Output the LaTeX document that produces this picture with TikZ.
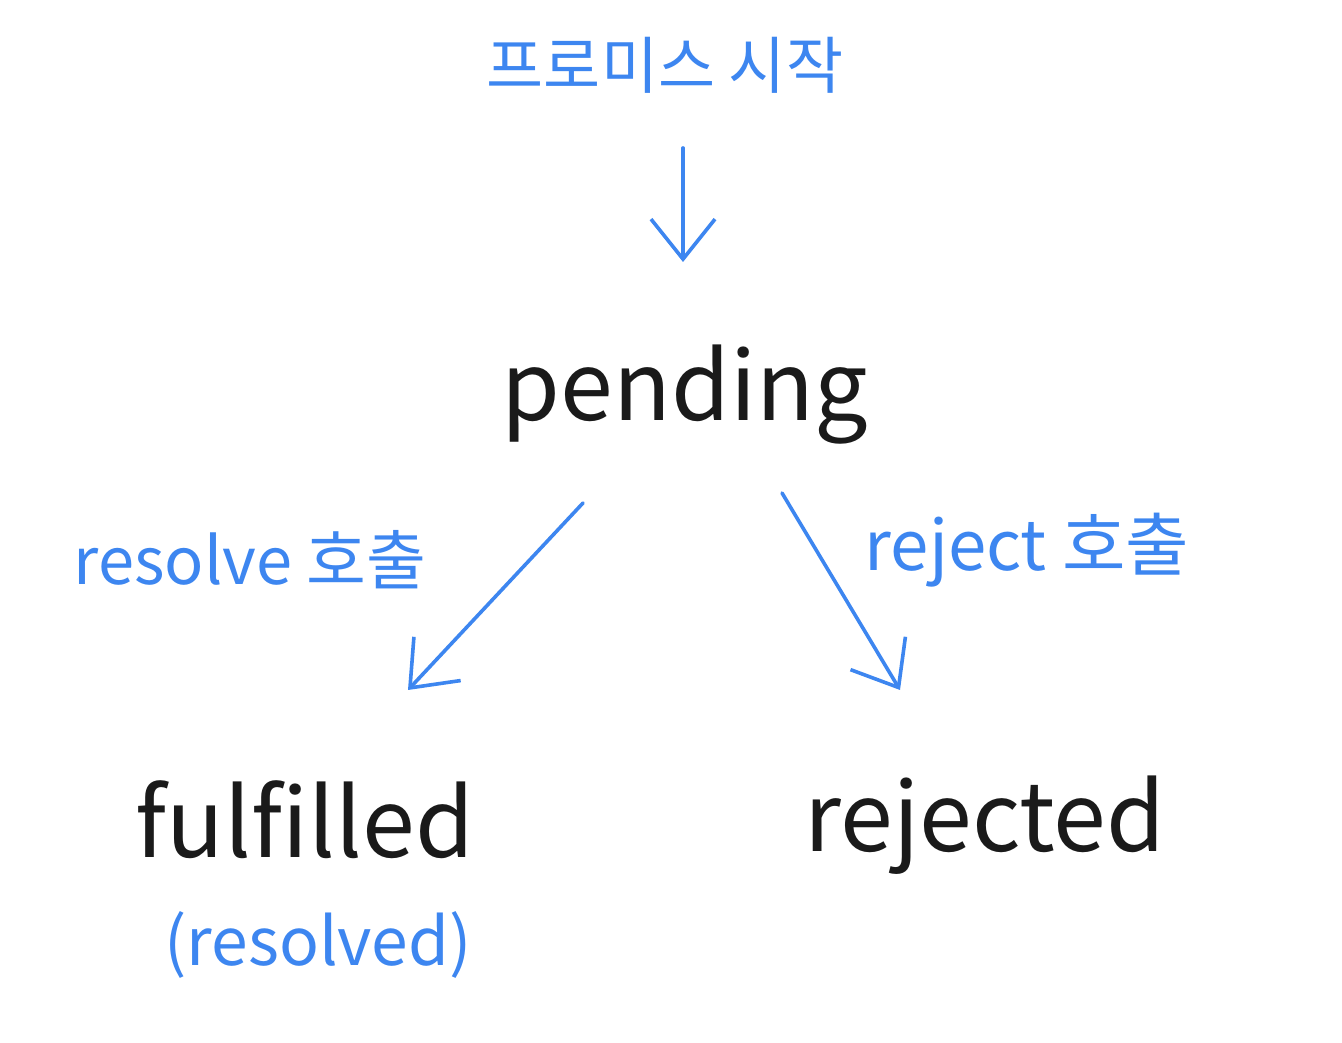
\documentclass[tikz,border=0pt]{standalone}
\usepackage{fontspec}
\setmainfont{Noto Sans CJK KR}
\usetikzlibrary{arrows.meta}
\definecolor{pblue}{HTML}{3D86F0}
\definecolor{pink}{HTML}{1A1A1A}
\tikzset{
  x=1pt,y=1pt,
  state/.style={text=pink,font=\fontsize{95}{100}\selectfont,inner sep=0pt},
  note/.style={text=pblue,font=\fontsize{62}{68}\selectfont,inner sep=0pt},
  flow/.style={draw=pblue,line width=3.6pt,line cap=round,line join=round,
    -{Straight Barb[length=40pt,width=64pt,line width=3.6pt]}}
}
\begin{document}
\begin{tikzpicture}
\useasboundingbox[fill=white] (0,0) rectangle (1342,1042);
% labels (y = 1042 - image y)
\node[note] (start) at (665,977) {프로미스 시작};
\node[state] (pending) at (685,647) {pending};
\node[note,font=\fontsize{65}{70}\selectfont] (res) at (250,482) {resolve 호출};
\node[note,font=\fontsize{69}{74}\selectfont] (rej) at (1027,492) {reject 호출};
\node[state] (ful) at (305,222) {fulfilled};
\node[note,font=\fontsize{66}{72}\selectfont] (resd) at (318,97) {(resolved)};
\node[state] (rjd) at (985,217) {rejected};
% connector ends
\coordinate (a1s) at (683,894);
\coordinate (a1e) at (683,780);
\coordinate (a2s) at (583,539);
\coordinate (a2e) at (408,352);
\coordinate (a3s) at (782,549);
\coordinate (a3e) at (900,352);
\draw[flow] (a1s) -- (a1e);
\draw[flow] (a2s) -- (a2e);
\draw[flow] (a3s) -- (a3e);
\end{tikzpicture}
\end{document}
